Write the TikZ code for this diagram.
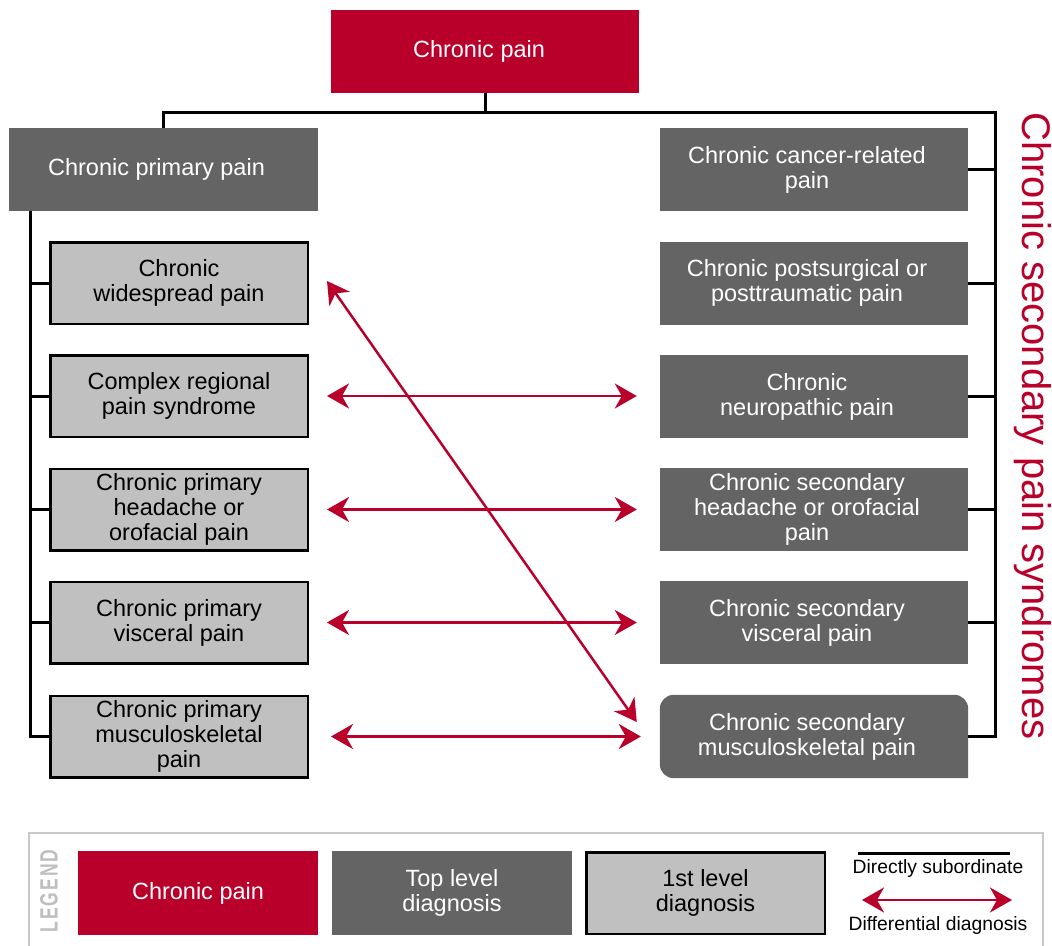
\documentclass[tikz,border=0pt]{standalone}
\usepackage{fontspec}
\setmainfont{Liberation Sans}
\usetikzlibrary{arrows.meta,calc}
\definecolor{cpred}{HTML}{B8002A}
\definecolor{dgray}{HTML}{646464}
\definecolor{lgray}{HTML}{C0C0C0}
\definecolor{frame}{HTML}{C8C8C8}
\definecolor{legtext}{HTML}{BEBEBE}
\tikzset{
  txt/.style={font=\fontsize{23.5}{25}\selectfont, align=center, inner sep=0pt},
  wtxt/.style={txt, text=white},
  redbox/.style={txt, fill=cpred, text=white, minimum height=83pt},
  topbox/.style={txt, fill=dgray, text=white, minimum width=308pt, minimum height=83pt},
  subbox/.style={txt, fill=lgray, draw=black, line width=2.5pt, text=black, minimum width=257.5pt, minimum height=81.5pt},
  conn/.style={draw=black, line width=3pt},
  diff/.style={draw=cpred, line width=2.5pt, {Stealth[length=22pt,width=25pt,inset=7pt]}-{Stealth[length=22pt,width=25pt,inset=7pt]}},
  small/.style={font=\fontsize{19.3}{20}\selectfont, inner sep=0pt}
}
\begin{document}
\begin{tikzpicture}[x=1pt,y=-1pt]
\useasboundingbox (0,0) rectangle (1052,945);
% top
\node[redbox, minimum width=308pt] (top) at (485,51.5) {};
\node[wtxt] (topt) at ($(top.center)+(-6,0)$) {Chronic pain};
\node[topbox, minimum width=309pt] (prim) at (163.5,169.5) {};
\node[wtxt] (primt) at ($(prim.center)+(-7,0)$) {Chronic primary pain};
% left 1st level
\node[subbox] (l1) at (179,283) {Chronic\\widespread pain};
\node[subbox] (l2) at (179,396) {Complex regional\\pain syndrome};
\node[subbox] (l3) at (179,509.5) {Chronic primary\\headache or\\orofacial pain};
\node[subbox] (l4) at (179,622.5) {Chronic primary\\visceral pain};
\node[subbox] (l5) at (179,736.5) {Chronic primary\\musculoskeletal\\pain};
% right top level
\node[topbox] (r1) at (814,169.5) {};
\node[wtxt] (r1t) at ($(r1.center)+(-7,0)$) {Chronic cancer-related\\pain};
\node[topbox] (r2) at (814,283) {};
\node[wtxt] (r2t) at ($(r2.center)+(-7,0)$) {Chronic postsurgical or\\posttraumatic pain};
\node[topbox] (r3) at (814,396.5) {};
\node[wtxt] (r3t) at ($(r3.center)+(-7,0)$) {Chronic\\neuropathic pain};
\node[topbox] (r4) at (814,509.5) {};
\node[wtxt] (r4t) at ($(r4.center)+(-7,0)$) {Chronic secondary\\headache or orofacial\\pain};
\node[topbox] (r5) at (814,622.5) {};
\node[wtxt] (r5t) at ($(r5.center)+(-7,0)$) {Chronic secondary\\visceral pain};
\node[topbox, fill=none] (r6) at (814,736.5) {};
\fill[dgray] (r6.south east) [rounded corners=14pt] -- (r6.south west) -- (r6.north west) -- (r6.north east) [sharp corners] -- (r6.south east) -- cycle;
\node[wtxt] (r6t) at ($(r6.center)+(-7,0)$) {Chronic secondary\\musculoskeletal pain};
% tree connectors
\coordinate (busR) at (995,112);
\coordinate (lx) at (30,211);
\draw[conn] (top.south) -- (top.south |- busR);
\draw[conn] (prim.north) |- (busR) |- (r6.east);
\foreach \n in {r1,r2,r3,r4,r5} \draw[conn] (\n.east) -- (\n.east -| busR);
\draw[conn] (lx |- prim.south) |- (l5.west);
\foreach \n in {l1,l2,l3,l4} \draw[conn] (\n.west) -- (\n.west -| lx);
% differential diagnosis arrows
\draw[diff, shorten <=18pt, shorten >=23pt] (l2.east) -- (l2.east -| r3.west);
\draw[diff, shorten <=18pt, shorten >=23pt] (l3.east) -- (r4.west);
\draw[diff, shorten <=18pt, shorten >=23pt] (l4.east) -- (r5.west);
\draw[diff, shorten <=22pt, shorten >=19pt] (l5.east) -- (r6.west);
\draw[diff] ($(l1.east)+(18,-2)$) -- ($(r6.west)+(-23,-14.5)$);
% side title
\node[font=\fontsize{40}{40}\selectfont, text=cpred, rotate=-90, anchor=base, inner sep=0pt] (side) at (1022,426) {Chronic secondary pain syndromes};
% legend
\draw[draw=frame, line width=2pt] (29,950) -- (29,833) -- (1043,833) -- (1043,950);
\node[rotate=90, text=legtext, font=\bfseries\fontsize{25}{25}\selectfont\addfontfeature{FakeStretch=0.7,LetterSpace=8}, inner sep=0pt] (legend) at (49,891) {LEGEND};
\node[redbox, minimum width=240pt, minimum height=84pt] (g1) at (198,893) {Chronic pain};
\node[topbox, minimum width=240pt, minimum height=84pt] (g2) at (452,893) {Top level\\diagnosis};
\node[subbox, minimum width=238.5pt, minimum height=81.5pt] (g3) at (705.5,893) {1st level\\diagnosis};
\coordinate (s1) at (858,853);
\coordinate (s2) at (1010,853);
\draw[conn] (s1) -- (s2);
\node[small] (gs) at (938,868) {Directly subordinate};
\coordinate (d1) at (862,900);
\coordinate (d2) at (1012,900);
\draw[diff] (d1) -- (d2);
\node[small] (gd) at (938,925) {Differential diagnosis};
\end{tikzpicture}
\end{document}
